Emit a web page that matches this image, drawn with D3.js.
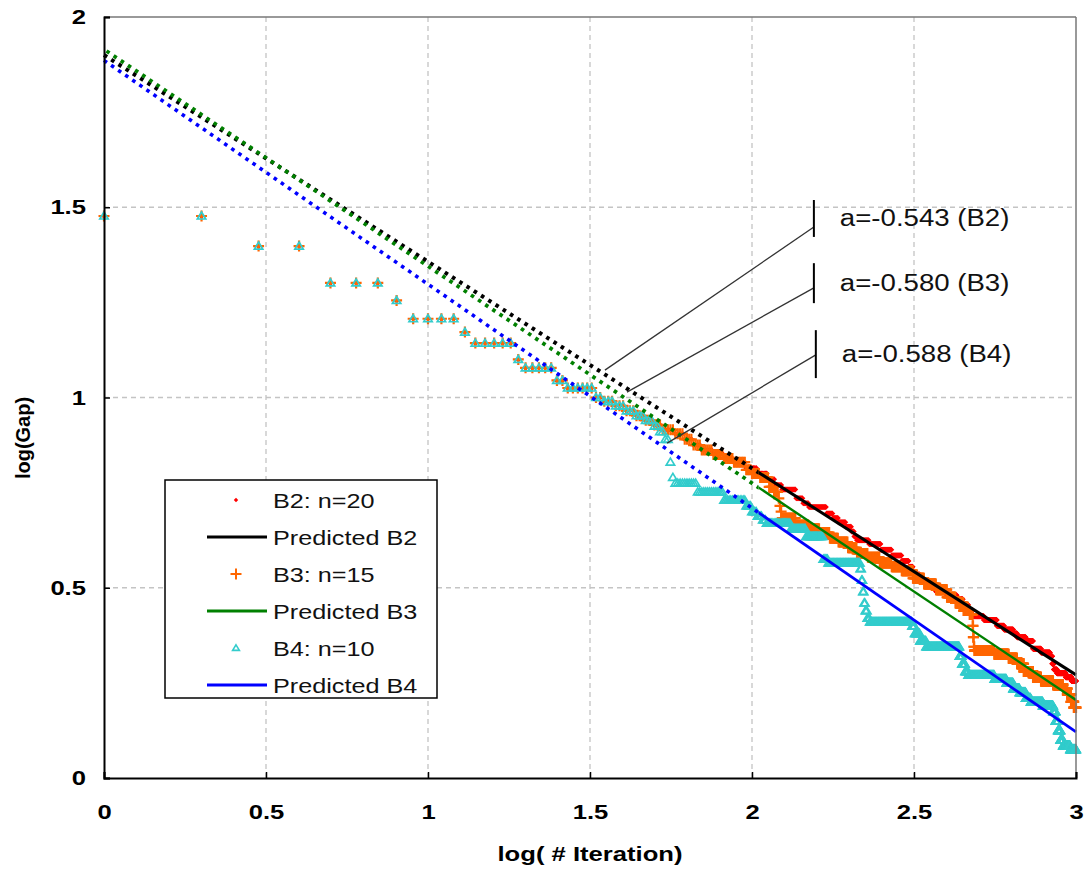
<!DOCTYPE html>
<html><head><meta charset="utf-8">
<script src="https://cdn.jsdelivr.net/npm/d3@7"></script>
<style>body{margin:0;background:#fff} svg{display:block}</style>
</head><body><svg id="chart" width="1085" height="875"></svg>
<script>
// ---------------- data ----------------
const xTicks = [0, 0.5, 1, 1.5, 2, 2.5, 3];
const yTicks = [0, 0.5, 1, 1.5, 2];
const xTitle = "log( # Iteration)";
const yTitle = "log(Gap)";
const legendNames = ["B2: n=20", "Predicted B2", "B3: n=15", "Predicted B3", "B4: n=10", "Predicted B4"];
const nIterations = 1000;

// step series: iteration at which a level starts, and log10(gap) of that level
const b2Iter = [1,3,5,8,9,13,14,19,20,25,27,33,35,38,41,44,47,50,53,58,62,66,70,76,82,88,96,104,112,118,124,137,144,150,170,178,185,195,203,207,211,230,250,270,290,305,314,330,350,370,400,429,448,465,481,520,570,600,640,658,700,737,780,831,845,855,874,930,970];
const b2LogGap = [1.477,1.398,1.301,1.255,1.207,1.172,1.143,1.100,1.078,1.045,1.025,1.0,0.99,0.978,0.965,0.952,0.94,0.928,0.915,0.905,0.89,0.875,0.862,0.852,0.84,0.83,0.815,0.80,0.785,0.77,0.758,0.735,0.722,0.712,0.695,0.683,0.672,0.66,0.648,0.635,0.625,0.615,0.60,0.585,0.57,0.555,0.535,0.52,0.505,0.49,0.48,0.47,0.455,0.44,0.425,0.415,0.40,0.39,0.38,0.37,0.36,0.34,0.33,0.32,0.30,0.285,0.275,0.265,0.255];

const b3Iter = [1,3,5,8,9,13,14,19,20,25,27,33,35,38,41,44,47,50,53,58,62,66,70,76,82,88,96,100,106,113,117,121,122,123,124,137,150,162,174,185,198,211,228,248,270,290,314,340,370,400,425,450,470,480,482,484,486,560,620,658,690,737,780,850,912,940,965,985];
const b3LogGap = [1.477,1.398,1.301,1.255,1.207,1.172,1.143,1.100,1.078,1.045,1.025,1.0,0.99,0.978,0.965,0.952,0.94,0.928,0.915,0.905,0.89,0.875,0.862,0.85,0.84,0.83,0.81,0.80,0.79,0.765,0.752,0.735,0.715,0.70,0.683,0.665,0.655,0.645,0.63,0.62,0.605,0.59,0.58,0.565,0.555,0.545,0.525,0.51,0.495,0.475,0.46,0.44,0.43,0.40,0.37,0.345,0.335,0.325,0.315,0.30,0.28,0.265,0.255,0.245,0.235,0.22,0.20,0.185];

const b4Iter = [1,3,5,8,9,13,14,19,20,25,27,33,35,38,41,44,47,50,52,54,56,57,58,68,82,96,100,104,108,111,132,147,166,172,216,218,220,222,224,227,231,312,318,330,345,437,445,455,465,560,610,640,670,700,725,790,850,865,880,895,912,960];
const b4LogGap = [1.477,1.398,1.301,1.255,1.207,1.172,1.143,1.100,1.078,1.045,1.025,1.0,0.99,0.978,0.965,0.952,0.94,0.925,0.91,0.89,0.83,0.79,0.775,0.752,0.73,0.715,0.70,0.688,0.678,0.67,0.655,0.635,0.575,0.565,0.55,0.52,0.49,0.46,0.44,0.42,0.41,0.40,0.38,0.36,0.345,0.32,0.30,0.28,0.27,0.26,0.25,0.235,0.225,0.21,0.20,0.19,0.175,0.15,0.125,0.10,0.085,0.075];

// predicted (fitted) lines: endpoints in (log iteration, log gap)
const predX = [0, 3];
const predB2 = [1.900, 0.271];
const predB3 = [1.915, 0.205];
const predB4 = [1.886, 0.121];

// slope annotations
const slopeLabels = ["a=-0.543 (B2)", "a=-0.580 (B3)", "a=-0.588 (B4)"];
const slopeTipX = [1.546, 1.614, 1.738];
const slopeTipY = [1.072, 1.014, 0.880];
const slopeBarX = [2.191, 2.191, 2.197];
const slopeJoinY = [1.448, 1.288, 1.112];
const slopeBarTop = [1.519, 1.353, 1.177];
const slopeBarBottom = [1.422, 1.248, 1.051];

// ---------------- layout ----------------
const W = 1085, H = 875;
const M = {left: 104, right: 9, top: 17, bottom: 97};
const svg = d3.select("#chart");
const x = d3.scaleLinear().domain([0, 3]).range([M.left, W - M.right]);
const y = d3.scaleLinear().domain([0, 2]).range([H - M.bottom, M.top]);
const STRETCH = 1.22;
function stretch(sel, f) {
  sel.each(function () {
    const l = this.getComputedTextLength();
    this.setAttribute("textLength", l * f);
    this.setAttribute("lengthAdjust", "spacingAndGlyphs");
  });
}
const FONT = "'Liberation Sans', Arial, sans-serif";

// gridlines
const grid = svg.append("g").attr("stroke", "#c4c4c4").attr("stroke-width", 1.3).attr("stroke-dasharray", "5,4");
xTicks.filter(t => t > 0 && t < 3).forEach(t => {
  grid.append("line").attr("x1", x(t)).attr("x2", x(t)).attr("y1", y(2)).attr("y2", y(0));
});
yTicks.filter(t => t > 0 && t < 2).forEach(t => {
  grid.append("line").attr("x1", x(0)).attr("x2", x(3)).attr("y1", y(t)).attr("y2", y(t));
});

// expand step series to one point per iteration
function expand(iters, vals) {
  const pts = [];
  let k = 0;
  for (let i = 1; i <= nIterations; i++) {
    while (k + 1 < iters.length && iters[k + 1] <= i) k++;
    pts.push([Math.log10(i), vals[k]]);
  }
  return pts;
}
const b2 = expand(b2Iter, b2LogGap);
const b3 = expand(b3Iter, b3LogGap);
const b4 = expand(b4Iter, b4LogGap);

const diamond = "M0,-3L3,0L0,3L-3,0Z";
const plus = "M-5.5,0H5.5M0,-5.5V5.5";
const tri = "M0,-4L4.2,3L-4.2,3Z";

const gB2 = svg.append("g");
gB2.selectAll("path").data(b2).join("path")
  .attr("d", diamond).attr("fill", "#ff0000")
  .attr("transform", d => `translate(${x(d[0])},${y(d[1])})`);
const gB3 = svg.append("g");
gB3.selectAll("path").data(b3).join("path")
  .attr("d", plus).attr("fill", "none").attr("stroke", "#ff6600").attr("stroke-width", 2.2)
  .attr("transform", d => `translate(${x(d[0])},${y(d[1])})`);
const gB4 = svg.append("g");
gB4.selectAll("path").data(b4).join("path")
  .attr("d", tri).attr("fill", "none").attr("stroke", "#33cccc").attr("stroke-width", 1.7)
  .attr("transform", d => `translate(${x(d[0])},${y(d[1])})`);

// predicted lines: dotted on the sparse left part, solid on the dense right part
const splitX = 2.02;
const defs = svg.append("defs");
defs.append("clipPath").attr("id", "leftPart").append("rect")
  .attr("x", 0).attr("y", 0).attr("width", x(splitX)).attr("height", H);
defs.append("clipPath").attr("id", "rightPart").append("rect")
  .attr("x", x(splitX)).attr("y", 0).attr("width", W - x(splitX)).attr("height", H);
const lineGen = d3.line().x(d => x(d[0])).y(d => y(d[1]));
function drawPred(vals, color, wDot, wSolid, offset) {
  const pts = predX.map((v, i) => [v, vals[i]]);
  svg.append("path").attr("d", lineGen(pts)).attr("clip-path", "url(#leftPart)")
    .attr("fill", "none").attr("stroke", color).attr("stroke-width", wDot)
    .attr("stroke-dasharray", "3.6,5").attr("stroke-dashoffset", offset);
  svg.append("path").attr("d", lineGen(pts)).attr("clip-path", "url(#rightPart)")
    .attr("fill", "none").attr("stroke", color).attr("stroke-width", wSolid);
}
drawPred(predB2, "#000000", 4, 3, 0);
drawPred(predB3, "#008000", 3.8, 2.4, -3);
drawPred(predB4, "#0000ff", 3.6, 2.8, 0);

// frame
svg.append("line").attr("x1", x(0)).attr("x2", x(3)).attr("y1", y(2)).attr("y2", y(2)).attr("stroke", "#777").attr("stroke-width", 1.5);
svg.append("line").attr("x1", x(3)).attr("x2", x(3)).attr("y1", y(2)).attr("y2", y(0)).attr("stroke", "#777").attr("stroke-width", 1.5);

// axes
const xAxis = svg.append("g").attr("transform", `translate(0,${y(0)})`)
  .call(d3.axisBottom(x).tickValues(xTicks).tickSize(-6).tickPadding(26).tickFormat(d3.format("")));
const yAxis = svg.append("g").attr("transform", `translate(${x(0)},0)`)
  .call(d3.axisLeft(y).tickValues(yTicks).tickSize(-6).tickPadding(18).tickFormat(d3.format("")));
[xAxis, yAxis].forEach(a => {
  a.select(".domain").attr("stroke", "#000").attr("stroke-width", 2);
  a.selectAll(".tick line").attr("stroke", "#000").attr("stroke-width", 1.5);
  a.selectAll(".tick text").attr("font-family", FONT).attr("font-size", 21).attr("font-weight", "bold").attr("fill", "#000");
});
xAxis.selectAll(".tick text").call(stretch, STRETCH);
yAxis.selectAll(".tick text").call(stretch, STRETCH);

// axis titles
svg.append("text").attr("x", x(1.5)).attr("y", 861).attr("text-anchor", "middle")
  .attr("font-family", FONT).attr("font-size", 21).attr("font-weight", "bold").text(xTitle)
  .call(stretch, STRETCH);
svg.append("text").attr("transform", "translate(30,438) rotate(-90)").attr("text-anchor", "middle")
  .attr("font-family", FONT).attr("font-size", 20).attr("font-weight", "bold").text(yTitle);

// slope annotations
const ann = svg.append("g");
slopeLabels.forEach((lab, i) => {
  ann.append("line").attr("x1", x(slopeBarX[i])).attr("y1", y(slopeJoinY[i]))
    .attr("x2", x(slopeTipX[i])).attr("y2", y(slopeTipY[i])).attr("stroke", "#333").attr("stroke-width", 1.3);
  ann.append("line").attr("x1", x(slopeBarX[i])).attr("x2", x(slopeBarX[i]))
    .attr("y1", y(slopeBarTop[i])).attr("y2", y(slopeBarBottom[i])).attr("stroke", "#000").attr("stroke-width", 2);
  ann.append("text").attr("x", x(slopeBarX[i]) + 26).attr("y", y((slopeBarTop[i] + slopeBarBottom[i]) / 2) + 8)
    .attr("font-family", FONT).attr("font-size", 23).attr("fill", "#111").text(lab)
    .call(stretch, 1.2);
});

// legend
const lg = svg.append("g");
lg.append("rect").attr("x", 165).attr("y", 480).attr("width", 272).attr("height", 218)
  .attr("fill", "#fff").attr("stroke", "#000").attr("stroke-width", 1.5);
const rowY = [500, 537, 574, 611, 648, 685];
const legendStyle = [
  {type: "m", d: "M0,-2.2L2.2,0L0,2.2L-2.2,0Z", fill: "#ff0000", stroke: "none", sw: 0},
  {type: "l", color: "#000000"},
  {type: "m", d: plus, fill: "none", stroke: "#ff6600", sw: 2},
  {type: "l", color: "#008000"},
  {type: "m", d: "M0,-3.2L3.4,2.4L-3.4,2.4Z", fill: "none", stroke: "#33cccc", sw: 1.6},
  {type: "l", color: "#0000ff"}
];
legendNames.forEach((name, i) => {
  const s = legendStyle[i];
  if (s.type === "m") {
    lg.append("path").attr("d", s.d).attr("fill", s.fill).attr("stroke", s.stroke).attr("stroke-width", s.sw)
      .attr("transform", `translate(236,${rowY[i]})`);
  } else {
    lg.append("line").attr("x1", 207).attr("x2", 267).attr("y1", rowY[i]).attr("y2", rowY[i])
      .attr("stroke", s.color).attr("stroke-width", 3);
  }
  lg.append("text").attr("x", 273).attr("y", rowY[i] + 7.5).attr("font-family", FONT).attr("font-size", 21)
    .attr("fill", "#111").text(name).call(stretch, 1.2);
});
</script></body></html>
